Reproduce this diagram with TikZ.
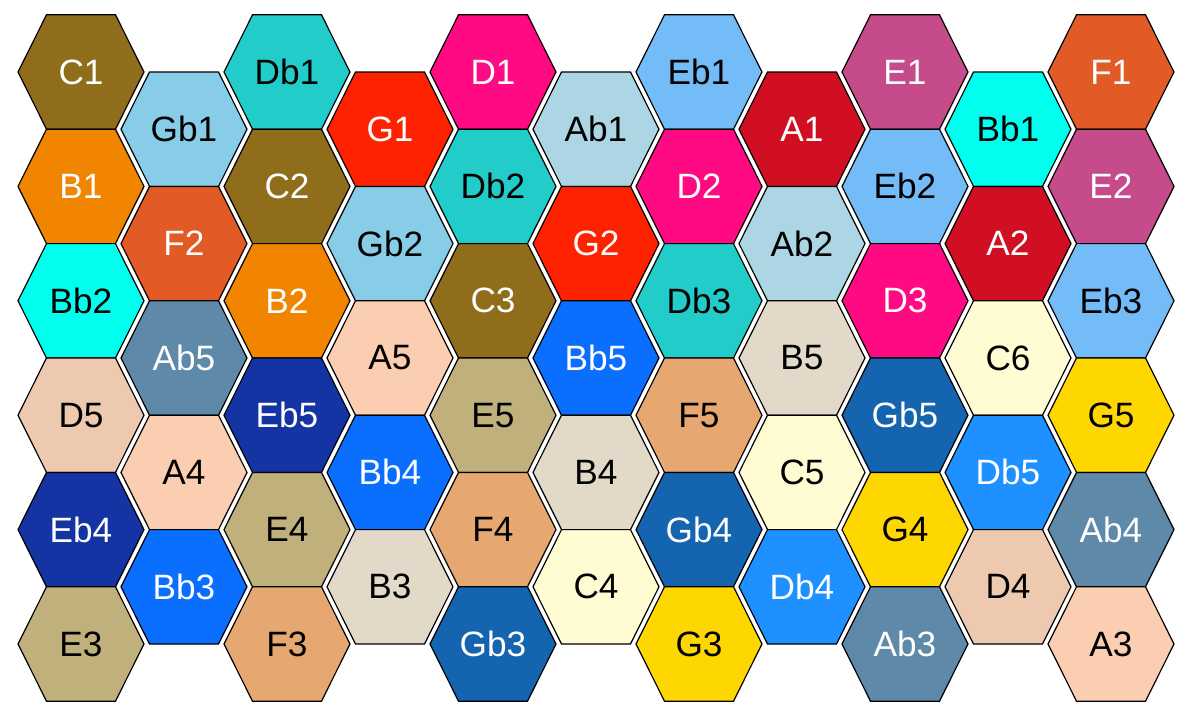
\documentclass[tikz,border=0pt]{standalone}
\usepackage{fontspec}
\setmainfont{Liberation Sans}
\usepackage{xcolor}
\usepackage{tikz}
\usetikzlibrary{calc}

% low octaves (1-2)
\definecolor{keyC}{HTML}{8F6D1B}
\definecolor{keyDb}{HTML}{22CCC9}
\definecolor{keyD}{HTML}{FF0A82}
\definecolor{keyEb}{HTML}{74BCF7}
\definecolor{keyE}{HTML}{C54B8A}
\definecolor{keyF}{HTML}{E25B26}
\definecolor{keyGb}{HTML}{87CDE8}
\definecolor{keyG}{HTML}{FF2200}
\definecolor{keyAb}{HTML}{ADD6E4}
\definecolor{keyA}{HTML}{D01022}
\definecolor{keyBb}{HTML}{00FFEE}
\definecolor{keyB}{HTML}{F28500}
% high octaves (3-6)
\definecolor{keyCh}{HTML}{FFFBD3}
\definecolor{keyDbh}{HTML}{1E90FF}
\definecolor{keyDh}{HTML}{EDC9AF}
\definecolor{keyEbh}{HTML}{1434A3}
\definecolor{keyEh}{HTML}{BFB07C}
\definecolor{keyFh}{HTML}{E6A870}
\definecolor{keyGbh}{HTML}{1464B0}
\definecolor{keyGh}{HTML}{FFD700}
\definecolor{keyAbh}{HTML}{5E89A8}
\definecolor{keyAh}{HTML}{FBCDB1}
\definecolor{keyBbh}{HTML}{0A6EFF}
\definecolor{keyBh}{HTML}{E2D9C9}

% #1 centre, #2 note, #3 fill, #4 text style
\newcommand{\notehex}[4]{%
  \draw[hexedge, fill=#3] (#1) ++(-63,0) -- ++(28.5,-57.2) -- ++(69,0)
    -- ++(28.5,57.2) -- ++(-28.5,57.2) -- ++(-69,0) -- cycle;
  \node[#4] (#2) at (#1) {#2};}

\begin{document}
\begin{tikzpicture}[
    x=0.5pt, y=-0.5pt,
    hexedge/.style={draw=black, line width=0.6pt, line join=miter},
    lighttext/.style={text=white, inner sep=0pt, font=\fontsize{17.6}{20}\selectfont},
    darktext/.style={text=black, inner sep=0pt, font=\fontsize{17.6}{20}\selectfont}
]
\useasboundingbox (0,0) rectangle (1199,719);
% column 1
\notehex{81,72}{C1}{keyC}{lighttext}
\notehex{81,186.4}{B1}{keyB}{lighttext}
\notehex{81,300.8}{Bb2}{keyBb}{darktext}
\notehex{81,415.2}{D5}{keyDh}{darktext}
\notehex{81,529.6}{Eb4}{keyEbh}{lighttext}
\notehex{81,644}{E3}{keyEh}{darktext}
% column 2
\notehex{184,129.2}{Gb1}{keyGb}{darktext}
\notehex{184,243.6}{F2}{keyF}{lighttext}
\notehex{184,358}{Ab5}{keyAbh}{lighttext}
\notehex{184,472.4}{A4}{keyAh}{darktext}
\notehex{184,586.8}{Bb3}{keyBbh}{lighttext}
% column 3
\notehex{287,72}{Db1}{keyDb}{darktext}
\notehex{287,186.4}{C2}{keyC}{lighttext}
\notehex{287,300.8}{B2}{keyB}{lighttext}
\notehex{287,415.2}{Eb5}{keyEbh}{lighttext}
\notehex{287,529.6}{E4}{keyEh}{darktext}
\notehex{287,644}{F3}{keyFh}{darktext}
% column 4
\notehex{390,129.2}{G1}{keyG}{lighttext}
\notehex{390,243.6}{Gb2}{keyGb}{darktext}
\notehex{390,358}{A5}{keyAh}{darktext}
\notehex{390,472.4}{Bb4}{keyBbh}{lighttext}
\notehex{390,586.8}{B3}{keyBh}{darktext}
% column 5
\notehex{493,72}{D1}{keyD}{lighttext}
\notehex{493,186.4}{Db2}{keyDb}{darktext}
\notehex{493,300.8}{C3}{keyC}{lighttext}
\notehex{493,415.2}{E5}{keyEh}{darktext}
\notehex{493,529.6}{F4}{keyFh}{darktext}
\notehex{493,644}{Gb3}{keyGbh}{lighttext}
% column 6
\notehex{596,129.2}{Ab1}{keyAb}{darktext}
\notehex{596,243.6}{G2}{keyG}{lighttext}
\notehex{596,358}{Bb5}{keyBbh}{lighttext}
\notehex{596,472.4}{B4}{keyBh}{darktext}
\notehex{596,586.8}{C4}{keyCh}{darktext}
% column 7
\notehex{699,72}{Eb1}{keyEb}{darktext}
\notehex{699,186.4}{D2}{keyD}{lighttext}
\notehex{699,300.8}{Db3}{keyDb}{darktext}
\notehex{699,415.2}{F5}{keyFh}{darktext}
\notehex{699,529.6}{Gb4}{keyGbh}{lighttext}
\notehex{699,644}{G3}{keyGh}{darktext}
% column 8
\notehex{802,129.2}{A1}{keyA}{lighttext}
\notehex{802,243.6}{Ab2}{keyAb}{darktext}
\notehex{802,358}{B5}{keyBh}{darktext}
\notehex{802,472.4}{C5}{keyCh}{darktext}
\notehex{802,586.8}{Db4}{keyDbh}{lighttext}
% column 9
\notehex{905,72}{E1}{keyE}{lighttext}
\notehex{905,186.4}{Eb2}{keyEb}{darktext}
\notehex{905,300.8}{D3}{keyD}{lighttext}
\notehex{905,415.2}{Gb5}{keyGbh}{lighttext}
\notehex{905,529.6}{G4}{keyGh}{darktext}
\notehex{905,644}{Ab3}{keyAbh}{lighttext}
% column 10
\notehex{1008,129.2}{Bb1}{keyBb}{darktext}
\notehex{1008,243.6}{A2}{keyA}{lighttext}
\notehex{1008,358}{C6}{keyCh}{darktext}
\notehex{1008,472.4}{Db5}{keyDbh}{lighttext}
\notehex{1008,586.8}{D4}{keyDh}{darktext}
% column 11
\notehex{1111,72}{F1}{keyF}{lighttext}
\notehex{1111,186.4}{E2}{keyE}{lighttext}
\notehex{1111,300.8}{Eb3}{keyEb}{darktext}
\notehex{1111,415.2}{G5}{keyGh}{darktext}
\notehex{1111,529.6}{Ab4}{keyAbh}{lighttext}
\notehex{1111,644}{A3}{keyAh}{darktext}
\end{tikzpicture}
\end{document}
